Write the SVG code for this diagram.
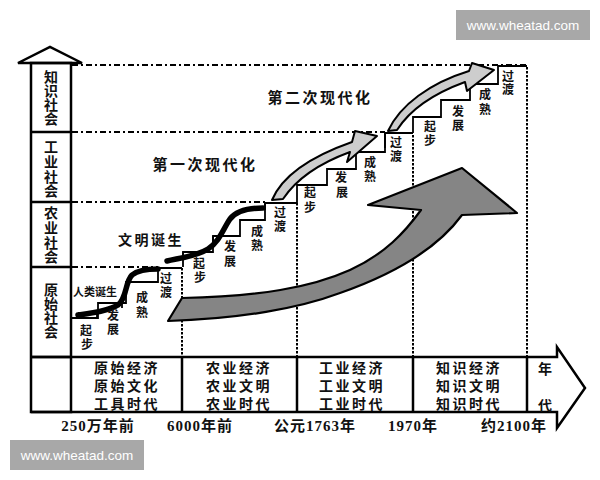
<svg xmlns="http://www.w3.org/2000/svg" width="600" height="480" viewBox="0 0 600 480">
<style>
.ln{stroke:#000;stroke-width:2.5;fill:none}
.th{stroke:#000;stroke-width:1.8;fill:none}
.dash{stroke:#000;stroke-width:2;fill:none;stroke-dasharray:6 3 2 3}
.dot{stroke:#000;stroke-width:2;fill:none;stroke-dasharray:2.5 1.5}
.thick{stroke:#000;stroke-width:5.5;fill:none;stroke-linecap:round}
.t{font-family:"Liberation Serif","Noto Sans CJK SC",serif;font-weight:bold;fill:#111;text-anchor:middle;dominant-baseline:central}
.col{font-size:14px}
.lab{font-size:12px}
.bar{font-size:14px;letter-spacing:2.5px}
.yr{font-size:15px;letter-spacing:1px}
.ttl{font-size:15px;letter-spacing:2.5px}
.wm{fill:#a8a8a8}
.wmt{font-family:"Liberation Sans",Arial,sans-serif;font-size:13.5px;fill:#fff;text-anchor:middle;dominant-baseline:central}
.grey{fill:#cdcdcd;stroke:#000;stroke-width:2;stroke-linejoin:round}
.big{fill:#858585;stroke:#000;stroke-width:2.2;stroke-linejoin:round}
</style>
<rect width="600" height="480" fill="#fff"/>

<g id="guides">
<path class="dash" d="M72,65 H527"/>
<path class="dash" d="M72,132 H385"/>
<path class="dash" d="M72,202 H268"/>
<path class="dash" d="M72,267 H158"/>
<path class="dot" d="M527,67 V357"/>
<path class="dot" d="M413,135 V357"/>
<path class="dot" d="M297,203 V357"/>
<path class="dot" d="M182,268 V357"/>
</g>

<g id="society-axis">
<polygon class="ln" points="18,63 50,47 82,63" fill="#fff"/>
<rect class="ln" x="31" y="63" width="40" height="349"/>
<path class="ln" d="M31,132 H71 M31,202 H71 M31,267 H71 M31,357 H71"/>
<g id="knowledge-society"><text class="t col" x="51" y="77">知</text><text class="t col" x="51" y="91">识</text><text class="t col" x="51" y="105">社</text><text class="t col" x="51" y="119">会</text></g>
<g id="industrial-society"><text class="t col" x="51" y="147">工</text><text class="t col" x="51" y="162">业</text><text class="t col" x="51" y="177">社</text><text class="t col" x="51" y="191">会</text></g>
<g id="agricultural-society"><text class="t col" x="51" y="213">农</text><text class="t col" x="51" y="228">业</text><text class="t col" x="51" y="243">社</text><text class="t col" x="51" y="257">会</text></g>
<g id="primitive-society"><text class="t col" x="51" y="290">原</text><text class="t col" x="51" y="304">始</text><text class="t col" x="51" y="318">社</text><text class="t col" x="51" y="332">会</text></g>
</g>

<g id="time-bar">
<path class="ln" d="M31,357 H557 V347 L585,388 L557,428 V412 H31"/>
<path class="ln" d="M182,357 V412 M297,357 V412 M413,357 V412 M527,357 V412"/>
<g id="era-primitive"><text class="t bar" x="127" y="368">原始经济</text><text class="t bar" x="127" y="386">原始文化</text><text class="t bar" x="127" y="404">工具时代</text></g>
<g id="era-agricultural"><text class="t bar" x="239" y="368">农业经济</text><text class="t bar" x="239" y="386">农业文明</text><text class="t bar" x="239" y="404">农业时代</text></g>
<g id="era-industrial"><text class="t bar" x="352" y="368">工业经济</text><text class="t bar" x="352" y="386">工业文明</text><text class="t bar" x="352" y="404">工业时代</text></g>
<g id="era-knowledge"><text class="t bar" x="469" y="368">知识经济</text><text class="t bar" x="469" y="386">知识文明</text><text class="t bar" x="469" y="404">知识时代</text></g>
<g id="era-axis-label"><text class="t col" x="545" y="369">年</text><text class="t col" x="545" y="405">代</text></g>
</g>

<g id="years">
<text class="t yr" x="98" y="426">250万年前</text>
<text class="t yr" x="200" y="426">6000年前</text>
<text class="t yr" x="315" y="426">公元1763年</text>
<text class="t yr" x="413" y="426">1970年</text>
<text class="t yr" x="514" y="426">约2100年</text>
</g>

<g id="big-arrow">
<path class="big" d="M168,321 L182,298 C260,296 310,288 350,270 C385,254 405,232 421,210 L368,205 L462,168 L517,213 L462,215 C440,245 400,272 340,293 C300,308 240,319 168,321 Z"/>
</g>

<g id="stage1">
<path class="th" d="M71,318 H98 V303 H126 V282 H158 V268 H182"/>
<path class="th" d="M78,313 H97 V318 M98,303 H122 V308"/>
<path class="thick" d="M78,315 C92,313 108,311 118,305 C127,298 125,282 132,275 C138,270 148,269 158,269"/>
<text class="t" x="95" y="292" font-size="11">人类诞生</text>
<text class="t lab" x="86" y="331">起</text><text class="t lab" x="87" y="345">步</text>
<text class="t lab" x="113" y="316">发</text><text class="t lab" x="113" y="330">展</text>
<text class="t lab" x="142" y="298">成</text><text class="t lab" x="142" y="313">熟</text>
<text class="t lab" x="166" y="279">过</text><text class="t lab" x="166" y="293">渡</text>
</g>

<g id="stage2">
<path class="th" d="M183,267 V252 H213 V236 H240 V220 H265 V203 H297"/>
<path class="th" d="M183,252 V258 M213,236 V246"/>
<path class="thick" d="M167,261 C180,258 197,256 208,249 C220,241 223,229 230,219 C236,211 248,208 263,208"/>
<text class="t" x="151" y="240" font-size="14" letter-spacing="2.5">文明诞生</text>
<text class="t lab" x="199" y="264">起</text><text class="t lab" x="200" y="278">步</text>
<text class="t lab" x="230" y="247">发</text><text class="t lab" x="230" y="262">展</text>
<text class="t lab" x="257" y="232">成</text><text class="t lab" x="257" y="246">熟</text>
<text class="t lab" x="280" y="213">过</text><text class="t lab" x="280" y="227">渡</text>
</g>

<g id="stage3">
<path class="th" d="M297,203 V185 H327 V169 H356 V152 H385 V133 H413"/>
<path class="th" d="M265,203 V210"/>
<path class="grey" d="M272,200 C283,174 315,155 352,142 L355,131 L377,136 L347,162 L350,152 C320,163 297,178 283,199 Z"/>
<text class="t ttl" x="205" y="165">第一次现代化</text>
<text class="t lab" x="310" y="193">起</text><text class="t lab" x="310" y="208">步</text>
<text class="t lab" x="341" y="178">发</text><text class="t lab" x="342" y="193">展</text>
<text class="t lab" x="370" y="163">成</text><text class="t lab" x="370" y="177">熟</text>
<text class="t lab" x="396" y="143">过</text><text class="t lab" x="396" y="157">渡</text>
</g>

<g id="stage4">
<path class="th" d="M413,133 V117 H441 V100 H470 V84 H498 V66 H527"/>
<path class="th" d="M385,133 V148"/>
<path class="grey" d="M388,131 C400,105 430,83 469,71 L472,63 L494,70 L467,91 L465,82 C435,93 411,108 397,130 Z"/>
<text class="t ttl" x="320" y="98">第二次现代化</text>
<text class="t lab" x="430" y="127">起</text><text class="t lab" x="430" y="141">步</text>
<text class="t lab" x="458" y="112">发</text><text class="t lab" x="458" y="126">展</text>
<text class="t lab" x="485" y="95">成</text><text class="t lab" x="485" y="110">熟</text>
<text class="t lab" x="508" y="77">过</text><text class="t lab" x="508" y="90">渡</text>
</g>

<g id="watermark-top">
<rect class="wm" x="456" y="10" width="134" height="30"/>
<text class="wmt" x="523" y="25">www.wheatad.com</text>
</g>
<g id="watermark-bottom">
<rect class="wm" x="10" y="440" width="134" height="30"/>
<text class="wmt" x="77" y="455">www.wheatad.com</text>
</g>
</svg>
